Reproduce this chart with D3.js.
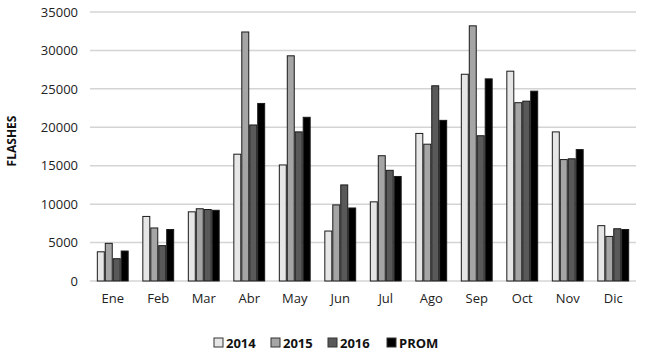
<!DOCTYPE html>
<html><head><meta charset="utf-8">
<script src="https://cdn.jsdelivr.net/npm/d3@7"></script>
<style>body{margin:0;background:#fff}svg{display:block}</style>
</head><body><svg id="c" width="650" height="359"></svg>
<script>
const months = ["Ene","Feb","Mar","Abr","May","Jun","Jul","Ago","Sep","Oct","Nov","Dic"];
const seriesNames = ["2014","2015","2016","PROM"];
const v2014 = [3800,8400,9000,16500,15100,6500,10300,19200,26900,27300,19400,7200];
const v2015 = [4900,6900,9400,32400,29300,9900,16300,17800,33200,23200,15800,5800];
const v2016 = [2900,4600,9300,20300,19400,12500,14400,25400,18900,23400,15900,6800];
const vProm = [3900,6700,9200,23100,21300,9500,13600,20900,26300,24700,17100,6700];
const yTicks = [0,5000,10000,15000,20000,25000,30000,35000];
const colors = ["#e6e6e6","#a5a5a5","#595959","#000000"];
const allSeries = [v2014,v2015,v2016,vProm];

const svg = d3.select("#c");
const m = {l:90,r:14,t:12,b:78};
const W = 650, H = 359;
const x = d3.scaleBand().domain(months).range([m.l, W-m.r]).paddingInner(0.3).paddingOuter(0.15);
const xs = d3.scaleBand().domain(seriesNames).range([0, x.bandwidth()]);
const y = d3.scaleLinear().domain([0,35000]).range([H-m.b, m.t]);

// grid
svg.append("g").selectAll("line").data(yTicks).join("line")
  .attr("x1", m.l).attr("x2", W-m.r)
  .attr("y1", d=>y(d)).attr("y2", d=>y(d))
  .attr("stroke", "#d4d4d4").attr("stroke-width", 1.5);

// y axis labels
const ya = svg.append("g").attr("transform",`translate(${m.l},0)`)
  .call(d3.axisLeft(y).tickValues(yTicks).tickSize(0).tickPadding(12).tickFormat(d3.format("d")));
ya.select(".domain").remove();
ya.selectAll("text").attr("font-family","Open Sans, sans-serif").attr("font-size",13).attr("fill","#222");

// x axis labels
const xa = svg.append("g").attr("transform",`translate(0,${H-m.b})`)
  .call(d3.axisBottom(x).tickSize(0).tickPadding(13));
xa.select(".domain").remove();
xa.selectAll("text").attr("font-family","Open Sans, sans-serif").attr("font-size",13).attr("fill","#222");

// bars
const g = svg.append("g");
months.forEach((mo,i)=>{
  seriesNames.forEach((s,j)=>{
    const val = allSeries[j][i];
    g.append("rect")
      .attr("x", x(mo)+xs(s)+0.5)
      .attr("y", y(val))
      .attr("width", xs.bandwidth()-1)
      .attr("height", y(0)-y(val))
      .attr("fill", colors[j])
      .attr("stroke", "#1a1a1a").attr("stroke-width", 1);
  });
});

// y title
svg.append("text").attr("transform","translate(16,141) rotate(-90)")
  .attr("text-anchor","middle").attr("font-family","Open Sans, sans-serif")
  .attr("font-weight","bold").attr("font-size",12).attr("fill","#111").text("FLASHES");

// legend
const lx = [214, 271, 328, 387];
const lg = svg.append("g");
seriesNames.forEach((s,j)=>{
  lg.append("rect").attr("x", lx[j]).attr("y", 338).attr("width", 9).attr("height", 9)
    .attr("fill", colors[j]).attr("stroke","#333").attr("stroke-width",1);
  lg.append("text").attr("x", lx[j]+12).attr("y", 348)
    .attr("font-family","Open Sans, sans-serif").attr("font-weight","bold").attr("font-size",13)
    .attr("fill","#111").text(s);
});
</script></body></html>
